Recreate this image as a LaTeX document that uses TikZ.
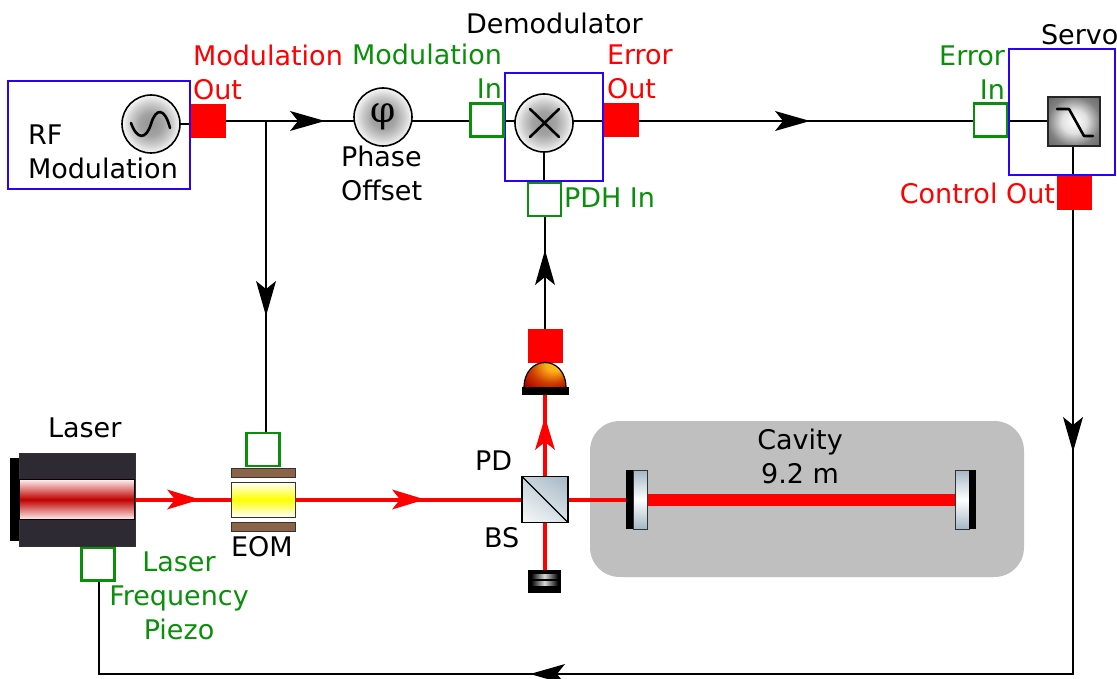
\documentclass[tikz,border=0pt]{standalone}
\usepackage{fontspec}
\setmainfont{DejaVu Sans}
\newfontfamily\phifont{DejaVu Serif}
\usetikzlibrary{arrows.meta,backgrounds,shadings}
\definecolor{pgreen}{HTML}{0A8F0A}
\definecolor{pblue}{HTML}{2A00FF}
\definecolor{pbrown}{HTML}{8B6347}
\definecolor{pdark}{HTML}{2E2A33}
\definecolor{pglass}{HTML}{A3B7C5}
\pgfdeclareradialshading{knobshade}{\pgfpointorigin}{
  color(0bp)=(black!42); color(10bp)=(black!36); color(18bp)=(black!20); color(25bp)=(black!3); color(50bp)=(black!3)}
\pgfdeclareradialshading{filtershade}{\pgfpointorigin}{
  color(0bp)=(white); color(12bp)=(black!12); color(25bp)=(black!50); color(36bp)=(black!60); color(50bp)=(black!60)}
\pgfdeclareradialshading{domeshade}{\pgfpoint{14bp}{12bp}}{
  color(0bp)=(yellow!60!orange); color(10bp)=(orange!70!yellow!90!white); color(24bp)=(orange!60!red!80!black); color(36bp)=(red!70!black); color(50bp)=(red!70!black)}
\tikzset{
  sq/.style={inner sep=0pt,outer sep=0pt,rectangle},
  redport/.style={sq,fill=red,minimum width=35pt,minimum height=34pt},
  greenport/.style={sq,draw=pgreen,line width=2.2pt,fill=white,minimum width=33pt,minimum height=33pt},
  bluebox/.style={sq,draw=pblue,line width=2.4pt},
  knob/.style={circle,inner sep=0pt,outer sep=0pt,draw=black,line width=1.6pt,minimum size=58pt,shade,shading=knobshade},
  wire/.style={draw=black,line width=2pt},
  beam/.style={draw=red,line width=4pt},
  wirehead/.style={-{Stealth[length=35pt,width=20pt,inset=8pt,line width=0pt]},wire},
  beamhead/.style={-{Stealth[length=33pt,width=20pt,inset=8pt,line width=0pt]},beam},
  afterhead/.style={shorten <=-8pt},
  glyph/.style={line width=2.6pt,line cap=round,line join=round},
  lab/.style={inner sep=0pt,outer sep=0pt,font=\fontsize{27}{34}\selectfont},
  mirrorglass/.style={sq,draw=black!80,line width=1pt,minimum width=14pt,minimum height=59pt,top color=pglass,bottom color=pglass,middle color=white},
  mirrorback/.style={sq,fill=black,minimum width=7pt,minimum height=59pt},
  plate/.style={sq,draw=black!80,line width=1pt,fill=pbrown,minimum width=64pt,minimum height=9pt},
  dumpbar/.style={sq,left color=black,right color=black,middle color=black!15,minimum width=27pt},
}
\begin{document}
\begin{tikzpicture}[x=1pt,y=-1pt]
\useasboundingbox (0,0) rectangle (1117,679);
% containers
\node[bluebox,minimum width=182pt,minimum height=108pt] (rfbox) at (99,135) {};
\node[bluebox,minimum width=98pt,minimum height=108pt] (demodbox) at (554,127) {};
\node[bluebox,minimum width=106pt,minimum height=126pt] (servobox) at (1062,112) {};
% electronics
\node[knob] (osc) at (151,124) {};
\draw[glyph] (131,123) .. controls (137,140) and (146,140) .. (151,124) .. controls (156,107) and (165,108) .. (170,128);
\node[knob] (phase) at (383,117) {};
\node[inner sep=0pt,font=\phifont\fontsize{36}{36}\selectfont] (phi) at (383,117) {φ};
\node[knob] (mixer) at (544,123) {};
\draw[glyph] (530,109) -- (559,137) (559,109) -- (530,137);
\node[sq,draw=black!85,line width=1.2pt,minimum width=52pt,minimum height=49pt,shade,shading=filtershade] (filter) at (1074,121.5) {};
\draw[glyph] (1057,109) -- (1069,109) -- (1084,136) -- (1093,136);
\node[redport] (rfout) at (208.5,121) {};
\node[redport] (errout) at (621.5,120) {};
\node[redport] (ctrlout) at (1074,193) {};
\node[redport] (pdout) at (545,345.5) {};
\node[greenport] (modin) at (487,120) {};
\node[greenport] (pdhin) at (544.5,199.5) {};
\node[greenport] (errin) at (990.5,120) {};
\node[greenport] (eomin) at (263,449.5) {};
\node[greenport] (piezo) at (98,564) {};
% cavity
\begin{scope}[on background layer]
\fill[black!25] (590,451) .. controls (590,434) and (603,421) .. (620,421) -- (994,421) .. controls (1011,421) and (1024,434) .. (1024,451) -- (1024,547) .. controls (1024,564) and (1011,577) .. (994,577) -- (620,577) .. controls (603,577) and (590,564) .. (590,547) -- cycle;
\end{scope}
\node[mirrorglass] (mleft) at (640,499.5) {};
\node[mirrorback] (mleftb) at (629.5,499.5) {};
\node[mirrorglass] (mright) at (962,499.5) {};
\node[mirrorback] (mrightb) at (972.5,499.5) {};
% laser
\node[sq,fill=black,minimum width=10pt,minimum height=83pt] (lback) at (15,499.5) {};
\node[sq,draw=black!80,line width=1pt,fill=pdark,minimum width=116pt,minimum height=93pt] (laser) at (77,499.5) {};
\node[sq,draw=black,line width=1pt,top color=red!6!white,bottom color=red!6!white,middle color=red!75!black,minimum width=115pt,minimum height=40pt] (lband) at (77,499.5) {};
% EOM
\node[plate] (ptop) at (263,472.5) {};
\node[sq,draw=black!80,line width=1pt,top color=white,bottom color=white,middle color=yellow,minimum width=64pt,minimum height=35pt] (eom) at (263,499.5) {};
\node[plate] (pbot) at (263,526.5) {};
% beam splitter
\node[sq,draw=black,line width=1.2pt,minimum size=46pt,shade,lower left=black!3,lower right=pglass!40!white,upper left=pglass!60!white,upper right=pglass] (bs) at (545,499.5) {};
\draw[black,line width=1.2pt] (bs.north west) -- (bs.south east);
% detector
\path[draw=black,line width=1.2pt,shade,shading=domeshade] (524,388) .. controls (524,354) and (566,354) .. (566,388) -- cycle;
\node[sq,fill=black,minimum width=47pt,minimum height=8pt] (pd) at (545,391) {};
% beam dump
\node[sq,fill=black,minimum width=33pt,minimum height=23pt] (dump) at (544.5,581.5) {};
\node[dumpbar,minimum height=4pt] (dumpa) at (544.5,576) {};
\node[dumpbar,minimum height=4pt] (dumpb) at (544.5,583) {};
% free points
\coordinate (branch) at (266,121);
\coordinate (h1) at (325,121);
\coordinate (h2) at (266,316);
\coordinate (h3) at (810,121);
\coordinate (h4) at (545,250);
\coordinate (h5) at (1073,452);
\coordinate (corner1) at (1073,674);
\coordinate (corner2) at (99,674);
\coordinate (h6) at (530,674);
\coordinate (b1) at (200,499.5);
\coordinate (b2) at (425,499.5);
\coordinate (b3) at (545,417);
% connectors
\begin{scope}[on background layer]
\draw[wire] (osc) -- (osc -| rfout);
\draw[wire] (rfout.east |- branch) -- (branch);
\draw[wirehead] (branch) -- (h1);
\draw[wire,afterhead] (h1) -- (h1 -| phase);
\draw[wire] (h1 -| phase) -- (h1 -| modin.west);
\draw[wire] (h1 -| modin.east) -- (h1 -| mixer);
\draw[wire] (mixer) -- (mixer |- pdhin.north);
\draw[wire] (h1 -| mixer) -- (h1 -| errout.west);
\draw[wirehead] (h3 -| errout.east) -- (h3);
\draw[wire,afterhead] (h3) -- (h3 -| errin.west);
\draw[wire] (h3 -| errin.east) -- (h3 -| filter);
\draw[wirehead] (branch) -- (h2);
\draw[wire,afterhead] (h2) -- (h2 |- eomin.north);
\draw[wirehead] (h4 |- pdout.north) -- (h4);
\draw[wire,afterhead] (h4) -- (h4 |- pdhin.south);
\draw[wire] (h5 |- filter) -- (h5 |- ctrlout.north);
\draw[wirehead] (h5 |- ctrlout.south) -- (h5);
\draw[wire,afterhead,shorten >=-1pt] (h5) -- (corner1);
\draw[wirehead] (corner1) -- (h6);
\draw[wire,afterhead,line join=miter] (h6) -- (corner2) -- (corner2 |- piezo.south);
\draw[beamhead] (laser.east) -- (b1);
\draw[beam,afterhead] (b1) -- (eom.west);
\draw[beamhead] (eom.east) -- (b2);
\draw[beam,afterhead] (b2) -- (bs.west);
\draw[beam] (bs.east) -- (mleftb.west);
\draw[beamhead] (bs.north) -- (b3);
\draw[beam,afterhead] (b3) -- (pd.south);
\draw[beam] (bs.south) -- (bs.south |- dump.north);
\draw[draw=red,line width=12pt] (mleft.east) -- (mright.west);
\end{scope}
% labels
\node[lab,text=red,align=left,anchor=base west] (tmodout) at (193,100) {Modulation\\Out};
\node[lab,text=pgreen,align=right,anchor=base east] (tmodin) at (502,99) {Modulation\\In};
\node[lab,anchor=base west] (tdemod) at (466,34) {Demodulator};
\node[lab,text=red,align=left,anchor=base west] (terrout) at (607,99) {Error\\Out};
\node[lab,text=pgreen,align=right,anchor=base east] (terrin) at (1005,100) {Error\\In};
\node[lab,anchor=base west] (tservo) at (1041,45) {Servo};
\node[lab,text=red,anchor=base east] (tctrl) at (1055,204) {Control Out};
\node[lab,text=pgreen,anchor=base west] (tpdh) at (564,208) {PDH In};
\node[lab,align=left,anchor=base west] (tphase) at (341,201) {Phase\\Offset};
\node[lab,align=left,anchor=base west] (trf) at (28,179) {RF\\Modulation};
\node[lab,anchor=base west] (tlaser) at (48,437) {Laser};
\node[lab,anchor=base west] (teom) at (231,556) {EOM};
\node[lab,text=pgreen,align=center,anchor=base] (tpiezo) at (179,639) {Laser\\Frequency\\Piezo};
\node[lab,anchor=base west] (tpd) at (475,470) {PD};
\node[lab,anchor=base west] (tbs) at (484,547) {BS};
\node[lab,align=center,anchor=base] (tcav) at (800,483) {Cavity\\9.2 m};
\end{tikzpicture}
\end{document}
